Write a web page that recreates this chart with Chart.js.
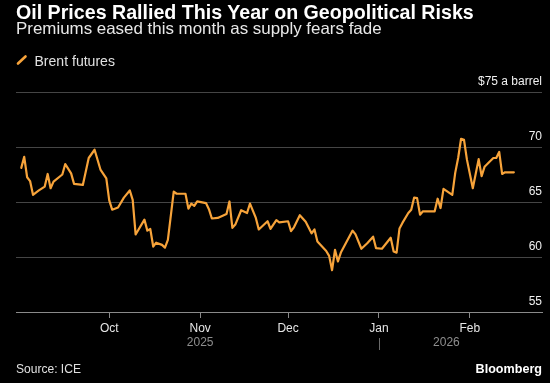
<!DOCTYPE html>
<html><head><meta charset="utf-8">
<script src="https://cdn.jsdelivr.net/npm/chart.js@4.4.1/dist/chart.umd.min.js"></script>
<style>
html,body{margin:0;padding:0;background:#000;}
#wrap{position:relative;width:550px;height:383px;background:#000;overflow:hidden;font-family:"Liberation Sans",Arial,sans-serif;color:#fff;}
canvas{position:absolute;left:0;top:0;}
.t{position:absolute;white-space:nowrap;line-height:1;}
#title{font-family:"Liberation Sans",Arial,sans-serif;font-weight:bold;font-size:16px;color:#fff;}
#subtitle{font-size:15px;color:#e8e8e8;}
#legtext{font-size:12px;color:#e0e0e0;}
#source{font-size:12px;color:#e0e0e0;}
#brand{font-size:12px;font-weight:bold;color:#fff;}
#icon{position:absolute;left:14px;top:53px;}
</style></head><body>
<div id="wrap">
<canvas id="c" width="550" height="383"></canvas>
<div class="t" id="title">Oil Prices Rallied This Year on Geopolitical Risks</div>
<div class="t" id="subtitle">Premiums eased this month as supply fears fade</div>
<svg id="icon" width="16" height="15"><line x1="4" y1="10.5" x2="11.5" y2="3.5" stroke="#f7a33a" stroke-width="2.6" stroke-linecap="round"/></svg>
<div class="t" id="legtext">Brent futures</div>
<div class="t" id="source">Source: ICE</div>
<div class="t" id="brand">Bloomberg</div>
</div>
<script>
// ---- data ----
const seriesName = 'Brent futures';
const dates = [
 '2025-09-01','2025-09-02','2025-09-03','2025-09-04','2025-09-05','2025-09-07','2025-09-09','2025-09-10','2025-09-11','2025-09-12',
 '2025-09-15','2025-09-16','2025-09-18','2025-09-19','2025-09-22','2025-09-24','2025-09-26','2025-09-28','2025-09-30','2025-10-01',
 '2025-10-02','2025-10-04','2025-10-06','2025-10-08','2025-10-09','2025-10-10','2025-10-13','2025-10-14','2025-10-15','2025-10-16',
 '2025-10-17','2025-10-19','2025-10-20','2025-10-21','2025-10-23','2025-10-24','2025-10-27','2025-10-28','2025-10-29','2025-10-30',
 '2025-10-31','2025-11-03','2025-11-04','2025-11-05','2025-11-07','2025-11-10','2025-11-11','2025-11-12','2025-11-13','2025-11-15',
 '2025-11-17','2025-11-18','2025-11-20','2025-11-21','2025-11-24','2025-11-25','2025-11-27','2025-11-28','2025-12-01','2025-12-02',
 '2025-12-03','2025-12-05','2025-12-07','2025-12-09','2025-12-10','2025-12-11','2025-12-14','2025-12-15','2025-12-16','2025-12-17',
 '2025-12-18','2025-12-19','2025-12-23','2025-12-24','2025-12-26','2025-12-28','2025-12-30','2025-12-31','2026-01-02','2026-01-05',
 '2026-01-06','2026-01-07','2026-01-08','2026-01-09','2026-01-11','2026-01-12','2026-01-13','2026-01-14','2026-01-15','2026-01-16',
 '2026-01-20','2026-01-21','2026-01-22','2026-01-23','2026-01-26','2026-01-27','2026-01-28','2026-01-29','2026-01-30','2026-01-31',
 '2026-02-02','2026-02-04','2026-02-05','2026-02-06','2026-02-09','2026-02-10','2026-02-11','2026-02-12','2026-02-13','2026-02-16'
];
const prices = [
 68.1,69.1,67.25,66.9,65.65,66.05,66.4,67.55,66.25,66.85,
 67.5,68.45,67.6,66.65,66.55,69.0,69.75,67.95,67.15,65.15,
 64.3,64.5,65.4,66.05,65.2,62.05,63.4,62.4,62.55,60.95,
 61.3,61.1,60.85,61.55,65.95,65.75,65.75,64.4,64.85,64.65,
 65.05,64.9,64.35,63.5,63.55,63.9,65.05,62.65,62.95,64.25,
 64.0,64.85,63.55,62.5,63.25,62.55,63.35,63.15,63.25,62.35,
 62.7,63.8,63.2,62.15,62.5,61.4,60.55,60.1,58.8,60.65,
 59.6,60.4,62.4,62.05,60.75,61.25,61.85,60.8,60.75,61.75,
 60.5,60.4,62.6,63.1,64.0,64.3,65.4,65.35,63.85,64.15,
 64.15,65.3,64.45,66.2,65.65,67.65,69.0,70.75,70.65,68.85,
 66.25,68.9,67.35,68.2,69.0,69.0,69.55,67.55,67.7,67.7
];
const monthTicks = ['2025-10-01','2025-11-01','2025-12-01','2026-01-01','2026-02-01'];
const monthLabels = ['Oct','Nov','Dec','Jan','Feb'];
const yTicks = [55,60,65,70,75];
const yUnitLabel = '$75 a barrel';
const yearLabels = ['2025','2026'];
const yearBreak = '2026-01-01';

// ---- helpers ----
const origin = Date.UTC(2025,8,1);
const dayOf = s => { const p = s.split('-').map(Number); return (Date.UTC(p[0],p[1]-1,p[2]) - origin) / 864e5; };
const points = dates.map((d,i) => ({x: dayOf(d), y: prices[i]}));
const monthDays = monthTicks.map(dayOf);

// ---- text placement ----
function place(id, edge, pos, cy, target){
  const el = document.getElementById(id);
  const fs = parseFloat(getComputedStyle(el).fontSize);
  const w = el.getBoundingClientRect().width;
  const nfs = fs * target / w;
  el.style.fontSize = nfs + 'px';
  el.style.top = (cy - 0.49*nfs) + 'px';
  if (edge === 'left') el.style.left = pos + 'px'; else el.style.right = (550 - pos) + 'px';
}
place('title','left',16,12.8,458);
place('subtitle','left',16,29.4,366);
place('legtext','left',34.5,60.5,80.5);
place('source','left',16,369,65);
place('brand','right',542,369,66.5);

const ORANGE = '#f7a33a';
Chart.defaults.font.family = '"Liberation Sans", Arial, sans-serif';
Chart.defaults.font.size = 12;

const yearPlugin = {
  id: 'years',
  afterDraw(chart){
    const xs = chart.scales.x, ctx = chart.ctx;
    const d0 = dayOf(dates[0]), d1 = dayOf(dates[dates.length-1]), b = dayOf(yearBreak);
    const px = v => xs.getPixelForValue(v);
    const base = xs.top;
    ctx.save();
    ctx.fillStyle = '#8e8e8e';
    ctx.font = '12px "Liberation Sans", Arial, sans-serif';
    ctx.textAlign = 'center';
    ctx.textBaseline = 'middle';
    ctx.fillText(yearLabels[0], (px(d0)+px(b))/2, base + 30.5);
    ctx.fillText(yearLabels[1], (px(b)+px(d1))/2, base + 30.5);
    ctx.strokeStyle = '#6a6a6a';
    ctx.lineWidth = 1;
    const bx = Math.round(px(b)) + 0.5;
    ctx.beginPath(); ctx.moveTo(bx, base + 26); ctx.lineTo(bx, base + 38); ctx.stroke();
    ctx.restore();
  }
};

new Chart(document.getElementById('c'), {
  type: 'line',
  data: { datasets: [{
    label: seriesName, data: points, borderColor: ORANGE, backgroundColor: ORANGE,
    borderWidth: 2.2, pointRadius: 0, tension: 0, borderJoinStyle: 'round', borderCapStyle: 'round', fill: false
  }]},
  options: {
    responsive: false, animation: false, devicePixelRatio: 1,
    layout: { padding: { top: 92, left: 16, right: 8, bottom: 31 } },
    plugins: { legend: { display: false }, tooltip: { enabled: false } },
    scales: {
      x: {
        type: 'linear', bounds: 'data', min: -1.8, max: 177.6,
        afterBuildTicks: s => { s.ticks = monthDays.map(v => ({value: v})); },
        afterFit: s => { s.height = 40; },
        ticks: { autoSkip: false, maxRotation: 0, color: '#e6e6e6', padding: 3,
          callback: (v) => { const i = monthDays.indexOf(v); return i >= 0 ? monthLabels[i] : ''; } },
        grid: { drawOnChartArea: false, drawTicks: true, tickLength: 6, tickColor: '#8a8a8a' },
        border: { display: true, color: '#8a8a8a', width: 1 }
      },
      y: {
        type: 'linear', position: 'right', min: 55, max: 75,
        afterBuildTicks: s => { s.ticks = yTicks.map(v => ({value: v})); },
        afterFit: s => { s.width = 0; },
        ticks: { mirror: true, padding: 0, labelOffset: -10, color: '#f0f0f0',
          callback: v => v === 75 ? yUnitLabel : String(v) },
        grid: { drawTicks: false, color: c => (c.tick && c.tick.value === 55) ? '#8a8a8a' : '#454545' },
        border: { display: false }
      }
    }
  },
  plugins: [yearPlugin]
});
</script>
</body></html>
